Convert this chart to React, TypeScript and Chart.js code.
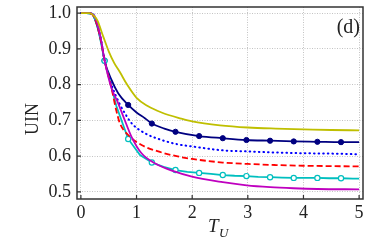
import React, { useEffect, useRef } from "react";
import { Chart, registerables } from "chart.js";

Chart.register(...registerables);

const xTicks = [0, 1, 2, 3, 4, 5];
const yTicks = [0.5, 0.6, 0.7, 0.8, 0.9, 1.0];

const yellowX = [0, 0.15, 0.25, 0.3, 0.4, 0.5, 0.6, 0.7, 0.83, 1.0, 1.2, 1.45, 1.8, 2.0, 2.5, 3.0, 3.5, 4.0, 4.5, 5.0];
const yellowY = [1.0, 1.0, 0.99, 0.978, 0.935, 0.893, 0.86, 0.835, 0.8, 0.763, 0.74, 0.722, 0.705, 0.697, 0.686, 0.68, 0.677, 0.675, 0.673, 0.672];

const navyX = [0, 0.1, 0.2, 0.3, 0.375, 0.425, 0.55, 0.67, 0.85, 1.0, 1.15, 1.275, 1.5, 1.7, 2.125, 2.55, 2.975, 3.4, 3.825, 4.25, 4.675, 5.0];
const navyY = [1.0, 1.0, 0.998, 0.96, 0.911, 0.867, 0.813, 0.776, 0.743, 0.722, 0.706, 0.691, 0.677, 0.668, 0.656, 0.65, 0.645, 0.643, 0.641, 0.64, 0.639, 0.639];

const blueX = [0, 0.15, 0.25, 0.35, 0.425, 0.55, 0.7, 0.79, 0.91, 1.15, 1.45, 1.74, 2.0, 2.55, 3.0, 3.5, 4.0, 4.5, 5.0];
const blueY = [1.0, 1.0, 0.99, 0.935, 0.87, 0.8, 0.745, 0.72, 0.692, 0.664, 0.645, 0.633, 0.627, 0.616, 0.613, 0.61, 0.608, 0.607, 0.605];

const redX = [0, 0.15, 0.25, 0.35, 0.425, 0.55, 0.64, 0.7, 0.85, 1.09, 1.39, 1.74, 2.0, 2.55, 3.0, 3.5, 4.0, 4.5, 5.0];
const redY = [1.0, 1.0, 0.985, 0.93, 0.868, 0.79, 0.725, 0.692, 0.659, 0.631, 0.613, 0.599, 0.592, 0.582, 0.578, 0.575, 0.573, 0.572, 0.571];

const cyanX = [0, 0.1, 0.2125, 0.3, 0.425, 0.6375, 0.85, 1.0625, 1.275, 1.4875, 1.7, 1.9125, 2.125, 2.3375, 2.55, 2.7625, 2.975, 3.1875, 3.4, 3.6125, 3.825, 4.0375, 4.25, 4.4625, 4.675, 4.8875, 5.0];
const cyanY = [1.0, 1.0, 0.998, 0.965, 0.867, 0.74, 0.648, 0.603, 0.582, 0.57, 0.561, 0.556, 0.553, 0.55, 0.547, 0.545, 0.544, 0.542, 0.541, 0.54, 0.539, 0.539, 0.539, 0.538, 0.538, 0.537, 0.537];

const magentaX = [0, 0.15, 0.25, 0.35, 0.425, 0.55, 0.65, 0.76, 0.91, 1.09, 1.33, 1.68, 1.98, 2.55, 2.98, 3.4, 3.82, 4.25, 5.0];
const magentaY = [1.0, 1.0, 0.99, 0.935, 0.868, 0.79, 0.755, 0.712, 0.654, 0.608, 0.58, 0.557, 0.543, 0.527, 0.518, 0.513, 0.51, 0.508, 0.507];

const markerX = [0.425, 0.85, 1.275, 1.7, 2.125, 2.55, 2.975, 3.4, 3.825, 4.25, 4.675];

const pts = (xs: number[], ys: number[]) => xs.map((x, i) => ({ x, y: ys[i] }));
const isMarker = (x: number) => markerX.some((m) => Math.abs(m - x) < 1e-6);

const SERIF = "'Liberation Serif', 'DejaVu Serif', serif";

const framePlugin = {
  id: "frame",
  afterDraw(chart: any) {
    const { ctx, chartArea } = chart;
    const { left, right, top, bottom } = chartArea;
    const xs = chart.scales.x;
    const ys = chart.scales.y;
    ctx.save();
    ctx.strokeStyle = "#333";
    ctx.lineWidth = 1.5;
    ctx.strokeRect(left, top, right - left, bottom - top);
    ctx.lineWidth = 1.2;
    ctx.beginPath();
    xTicks.forEach((v) => {
      const px = xs.getPixelForValue(v);
      ctx.moveTo(px, bottom);
      ctx.lineTo(px, bottom - 4);
    });
    yTicks.forEach((v) => {
      const py = ys.getPixelForValue(v);
      ctx.moveTo(left, py);
      ctx.lineTo(left + 4, py);
    });
    ctx.stroke();
    ctx.fillStyle = "#222";
    ctx.font = `20px ${SERIF}`;
    ctx.textAlign = "right";
    ctx.textBaseline = "alphabetic";
    ctx.fillText("(d)", right - 3, top + 26);
    ctx.textAlign = "left";
    ctx.font = `italic 19px ${SERIF}`;
    ctx.fillText("T", 208, 232);
    ctx.font = `italic 13px ${SERIF}`;
    ctx.fillText("U", 219, 237);
    ctx.translate(38, 119);
    ctx.rotate(-Math.PI / 2);
    ctx.textAlign = "center";
    ctx.font = `18px ${SERIF}`;
    ctx.fillText("UIN", 0, 0);
    ctx.restore();
  },
};

export default function App() {
  const ref = useRef<HTMLCanvasElement | null>(null);
  useEffect(() => {
    if (!ref.current) return;
    const line = (xs: number[], ys: number[], color: string, extra: any = {}) => ({
      data: pts(xs, ys),
      borderColor: color,
      backgroundColor: color,
      borderWidth: 1.8,
      pointRadius: 0,
      cubicInterpolationMode: "monotone",
      ...extra,
    });
    const chart = new Chart(ref.current, {
      type: "line",
      data: {
        datasets: [
          line(yellowX, yellowY, "#bfbf00"),
          line(magentaX, magentaY, "#bf00bf"),
          line(redX, redY, "#ff0000", { borderDash: [6, 3] }),
          line(blueX, blueY, "#0000ff", { borderDash: [0.6, 4], borderCapStyle: "round", borderWidth: 2 }),
          line(cyanX, cyanY, "#00bfbf", {
            cubicInterpolationMode: "default",
            tension: 0,
            backgroundColor: "#ffffff",
            pointBorderColor: "#00bfbf",
            pointBorderWidth: 1.2,
            pointRadius: (c: any) => (c.raw && isMarker(c.raw.x) ? 2.6 : 0),
          }),
          line(navyX, navyY, "#000080", {
            pointBackgroundColor: "#000080",
            pointBorderColor: "#000080",
            pointBorderWidth: 1,
            pointRadius: (c: any) => (c.raw && isMarker(c.raw.x) ? 2.6 : 0),
          }),
        ],
      } as any,
      options: {
        animation: false,
        responsive: false,
        maintainAspectRatio: false,
        layout: { padding: { top: 7, right: 11, left: 0, bottom: 0 } },
        plugins: { legend: { display: false }, tooltip: { enabled: false } },
        scales: {
          x: {
            type: "linear",
            min: -0.07,
            max: 5.07,
            afterBuildTicks: (s: any) => {
              s.ticks = xTicks.map((v) => ({ value: v }));
            },
            afterFit: (s: any) => {
              s.height = 50;
              s.paddingLeft = 0;
              s.paddingRight = 0;
            },
            grid: { color: "#b4b4b4", lineWidth: 0.8, drawTicks: false } as any,
            border: { display: false, dash: [1, 1.5] } as any,
            ticks: { padding: 3, color: "#222", font: { family: SERIF, size: 18 } },
          },
          y: {
            type: "linear",
            min: 0.48,
            max: 1.017,
            afterBuildTicks: (s: any) => {
              s.ticks = yTicks.map((v) => ({ value: v }));
            },
            afterFit: (s: any) => {
              s.width = 77;
              s.paddingTop = 0;
              s.paddingBottom = 0;
            },
            grid: { color: "#b4b4b4", lineWidth: 0.8, drawTicks: false } as any,
            border: { display: false, dash: [1, 1.5] } as any,
            ticks: {
              padding: 6,
              color: "#222",
              font: { family: SERIF, size: 18 },
              callback: (v: any) => Number(v).toFixed(1),
            },
          },
        },
      } as any,
      plugins: [framePlugin],
    });
    return () => chart.destroy();
  }, []);
  return (
    <div style={{ position: "fixed", left: 0, top: 0, width: 374, height: 249 }}>
      <canvas ref={ref} width={374} height={249} style={{ width: 374, height: 249, display: "block" }} />
    </div>
  );
}
